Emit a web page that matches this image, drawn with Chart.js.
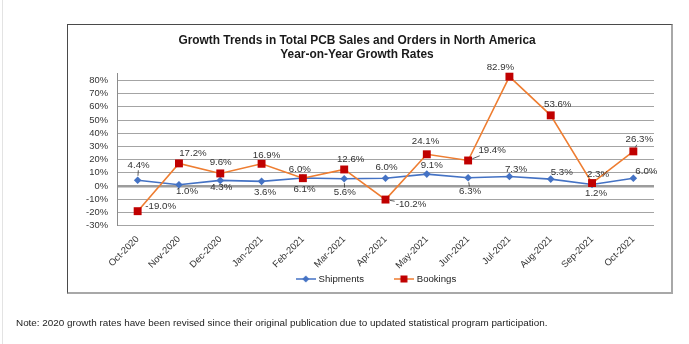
<!DOCTYPE html>
<html>
<head>
<meta charset="utf-8">
<script src="https://cdn.jsdelivr.net/npm/chart.js@4.4.1/dist/chart.umd.min.js"></script>
<style>
  html, body { margin: 0; padding: 0; background: #fff; }
  body { width: 689px; height: 344px; position: relative; overflow: hidden; font-family: "Liberation Sans", Arial, sans-serif; }
  #edge { position: absolute; left: 2px; top: 0; width: 1px; height: 344px; background: #e3e3e3; }
  #frame { position: absolute; left: 67px; top: 24px; width: 603px; height: 267px;
           border-top: 1px solid #4a4a4a; border-left: 1px solid #4a4a4a;
           border-right: 2px solid #a8a8a8; border-bottom: 2px solid #a8a8a8; }
  #wrap { position: absolute; left: 0; top: 0; width: 689px; height: 344px; }
  #note { position: absolute; left: 16px; top: 317px; font-size: 9.9px; color: #222; white-space: nowrap; }
</style>
</head>
<body>
<div id="edge"></div>
<div id="frame"></div>
<div id="wrap"><canvas id="chart" width="689" height="344"></canvas></div>
<div id="note">Note: 2020 growth rates have been revised since their original publication due to updated statistical program participation.</div>
<script>
// Months on the category axis
const months = ['Oct-2020', 'Nov-2020', 'Dec-2020', 'Jan-2021', 'Feb-2021', 'Mar-2021', 'Apr-2021',
                'May-2021', 'Jun-2021', 'Jul-2021', 'Aug-2021', 'Sep-2021', 'Oct-2021'];

// Year-on-year growth rates, in percent
const shipments = [4.4, 1.0, 4.3, 3.6, 6.1, 5.6, 6.0, 9.1, 6.3, 7.3, 5.3, 1.2, 6.0];
const bookings = [-19.0, 17.2, 9.6, 16.9, 6.0, 12.6, -10.2, 24.1, 19.4, 82.9, 53.6, 2.3, 26.3];

const seriesNames = ['Shipments', 'Bookings'];
const titleLines = ['Growth Trends in Total PCB Sales and Orders in North America', 'Year-on-Year Growth Rates'];

// Value-label placement relative to each point: [dx, dy, leader line]
const shipLabelPos = [[1, -15, true], [8, 7], [1, 7], [3.5, 10.7], [1.6, 11.7], [0.6, 13.8, true], [1, -10.7],
                      [5, -8.3], [2, 13.7, true], [6.6, -7.4], [11, -7], [4, 9], [13, -6.7]];
const bookLabelPos = [[23, -4.6], [14, -10], [0.4, -11], [5, -8.3], [-3, -8.4], [6.5, -9.7], [25.5, 4.6, true],
                      [-1.3, -12.8], [24, -9.7, true], [-9, -9.7], [7, -11.4], [6, -8.3], [6, -11.6, true]];

const FONT = '"Liberation Sans", Arial, sans-serif';
const BLUE = '#4472C4', ORANGE = '#EE7D31', RED = '#C00000';

// Legend glyph: a short line with the series marker in its middle
function legendGlyph(lineColor, fill, shape) {
  const c = document.createElement('canvas');
  c.width = 20; c.height = 10;
  const g = c.getContext('2d');
  g.strokeStyle = lineColor; g.lineWidth = 1.5;
  g.beginPath(); g.moveTo(0, 5); g.lineTo(20, 5); g.stroke();
  g.fillStyle = fill;
  if (shape === 'diamond') {
    g.beginPath(); g.moveTo(10, 1.5); g.lineTo(13.5, 5); g.lineTo(10, 8.5); g.lineTo(6.5, 5); g.closePath(); g.fill();
  } else {
    g.fillRect(6.5, 1.5, 7, 7);
  }
  return c;
}
const glyphs = [legendGlyph(BLUE, BLUE, 'diamond'), legendGlyph(ORANGE, RED, 'square')];

// Draws the percentage next to every point, with short leader lines where set
const pointLabels = {
  id: 'pointLabels',
  afterDatasetsDraw(chart) {
    const ctx = chart.ctx;
    const placement = [shipLabelPos, bookLabelPos];
    ctx.save();
    ctx.font = '9.7px ' + FONT;
    ctx.fillStyle = '#333';
    ctx.strokeStyle = '#333';
    ctx.lineWidth = 0.8;
    ctx.textAlign = 'center';
    ctx.textBaseline = 'middle';
    chart.data.datasets.forEach((ds, di) => {
      const meta = chart.getDatasetMeta(di);
      meta.data.forEach((pt, i) => {
        const text = ds.data[i].toFixed(1) + '%';
        const [dx, dy, lead] = placement[di][i];
        const cx = pt.x + dx, cy = pt.y + dy;
        if (lead) {
          const w = ctx.measureText(text).width / 2 + 1, h = 5;
          const vx = pt.x - cx, vy = pt.y - cy;
          const s = Math.min(Math.abs(vx) > 0 ? w / Math.abs(vx) : 9, Math.abs(vy) > 0 ? h / Math.abs(vy) : 9);
          const len = Math.hypot(vx, vy);
          const ex = cx + vx * s, ey = cy + vy * s;
          const sx = pt.x - vx / len * 4.5, sy = pt.y - vy / len * 4.5;
          ctx.beginPath(); ctx.moveTo(sx, sy); ctx.lineTo(ex, ey); ctx.stroke();
        }
        ctx.fillText(text, cx, cy);
      });
    });
    ctx.restore();
  }
};

// Places the legend row under the plot, just below the rotated month labels
const legendShift = {
  id: 'legendShift',
  afterLayout(chart) {
    chart.legend.left += 40;
    chart.legend.top -= 29.5;
    chart.legend.bottom -= 29.5;
  }
};

new Chart(document.getElementById('chart'), {
  type: 'line',
  data: {
    labels: months,
    datasets: [
      {
        label: seriesNames[0], data: shipments, order: 1,
        borderColor: BLUE, backgroundColor: BLUE, borderWidth: 1.6,
        pointStyle: 'rectRot', pointRadius: 3.8, pointBorderWidth: 0, pointBackgroundColor: BLUE,
        tension: 0, clip: false
      },
      {
        label: seriesNames[1], data: bookings, order: 0,
        borderColor: ORANGE, backgroundColor: RED, borderWidth: 1.6,
        pointStyle: 'rect', pointRadius: 5.6, pointBorderWidth: 0, pointBackgroundColor: RED,
        tension: 0, clip: false
      }
    ]
  },
  options: {
    responsive: false,
    animation: false,
    devicePixelRatio: 1,
    layout: { padding: { left: 60, right: 35, top: 34.25, bottom: 20.7 } },
    plugins: {
      tooltip: { enabled: false },
      title: {
        display: true, text: titleLines, color: '#1a1a1a',
        font: { family: FONT, size: 11.9, weight: 'bold', lineHeight: 1.13 },
        padding: { top: 0, bottom: 12.75 }
      },
      legend: {
        position: 'bottom',
        labels: {
          usePointStyle: true, pointStyleWidth: 16, padding: 32, color: '#222',
          font: { family: FONT, size: 9.6 },
          generateLabels: (chart) => chart.data.datasets.map((ds, i) => ({
            text: ds.label, pointStyle: glyphs[i], fillStyle: ds.borderColor,
            strokeStyle: ds.borderColor, lineWidth: 0, hidden: false, datasetIndex: i, fontColor: '#222'
          }))
        }
      }
    },
    scales: {
      x: {
        type: 'category', offset: true,
        grid: { display: false, drawTicks: false },
        border: { display: false },
        ticks: { minRotation: 45, maxRotation: 45, autoSkip: false, padding: 8, color: '#333',
                 font: { family: FONT, size: 9.4 } },
        afterFit: (s) => { s.height = 46; }
      },
      y: {
        min: -30, max: 85,
        grid: {
          drawTicks: false,
          color: (c) => c.tick && c.tick.value === 0 ? '#9c9c9c' : '#a4a4a4',
          lineWidth: (c) => c.tick && c.tick.value === 0 ? 2.6 : 1
        },
        border: { display: true, color: '#8c8c8c', width: 1 },
        ticks: { stepSize: 10, includeBounds: false, autoSkip: false, padding: 9, color: '#333',
                 font: { family: FONT, size: 9.4 }, callback: (v) => v + '%' },
        afterFit: (s) => { s.width = 57; }
      }
    }
  },
  plugins: [pointLabels, legendShift]
});
</script>
</body>
</html>
